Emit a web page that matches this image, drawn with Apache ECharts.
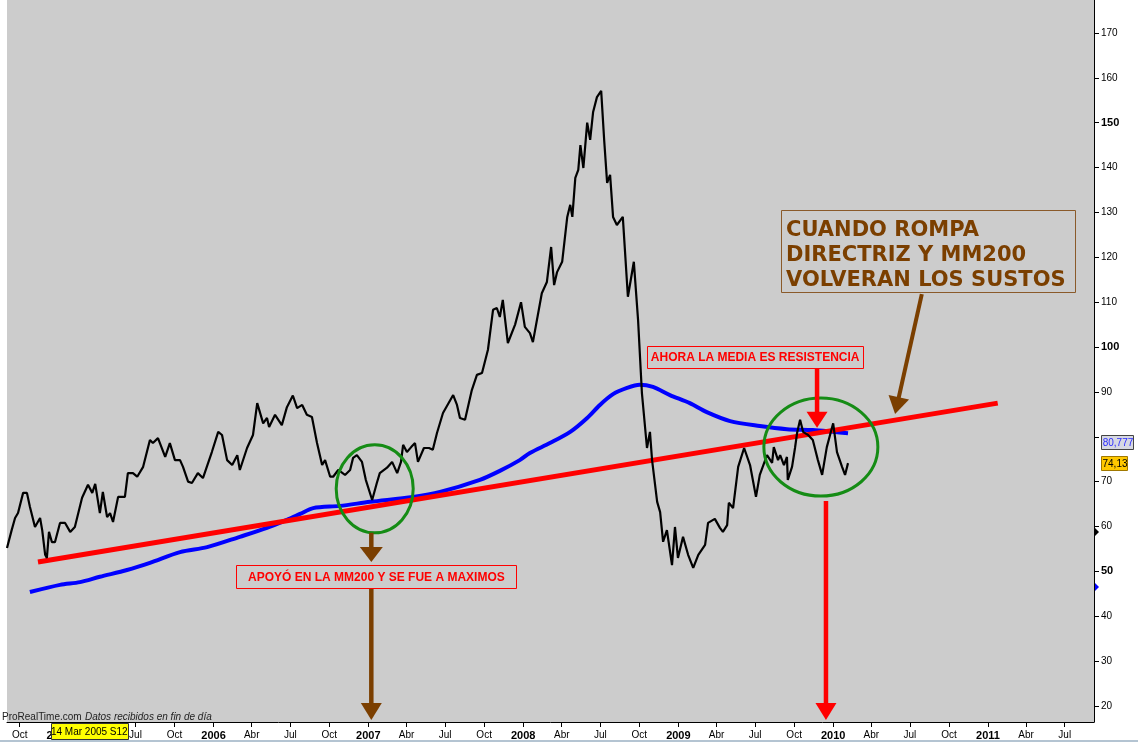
<!DOCTYPE html>
<html><head><meta charset="utf-8">
<script src="https://cdn.jsdelivr.net/npm/echarts@6/dist/echarts.min.js"></script>
<style>html,body{margin:0;padding:0;background:#fff;overflow:hidden}#c{width:1138px;height:742px}</style>
</head><body><div id="c"></div>
<script>
// ---------- DATA ----------
const priceDates = [
'2004-09-01','2004-09-12','2004-09-20','2004-09-27','2004-10-09','2004-10-18','2004-10-25','2004-11-06','2004-11-18','2004-11-23','2004-11-30','2004-12-04','2004-12-09','2004-12-16','2004-12-23',
'2005-01-04','2005-01-16','2005-01-28','2005-02-08','2005-02-25','2005-03-11','2005-03-21','2005-03-28','2005-04-08','2005-04-15','2005-04-25','2005-05-02','2005-05-09','2005-05-21','2005-06-06','2005-06-13','2005-06-25','2005-07-05','2005-07-19','2005-08-04','2005-08-11','2005-08-23','2005-09-09','2005-09-20','2005-10-02','2005-10-14','2005-10-21','2005-11-02','2005-11-11','2005-11-25','2005-12-07','2005-12-28',
'2006-01-12','2006-01-21','2006-02-02','2006-02-14','2006-02-26','2006-03-04','2006-03-21','2006-04-04','2006-04-14','2006-04-28','2006-05-07','2006-05-12','2006-05-26','2006-06-11','2006-06-23','2006-07-07','2006-07-17','2006-07-29','2006-08-09','2006-08-21','2006-09-02','2006-09-14','2006-09-21','2006-10-03','2006-10-10','2006-10-22','2006-11-07','2006-11-19','2006-11-26','2006-12-05','2006-12-17','2006-12-26',
'2007-01-10','2007-01-21','2007-01-28','2007-02-14','2007-02-26','2007-03-10','2007-03-19','2007-03-24','2007-04-02','2007-04-12','2007-04-21','2007-04-28','2007-05-12','2007-05-24','2007-06-02','2007-06-12','2007-06-26','2007-07-20','2007-07-29','2007-08-05','2007-08-17','2007-09-02','2007-09-14','2007-09-26','2007-10-10','2007-10-22','2007-10-31','2007-11-07','2007-11-14','2007-11-26','2007-12-13','2007-12-27',
'2008-01-05','2008-01-17','2008-01-24','2008-02-14','2008-02-26','2008-03-07','2008-03-14','2008-03-21','2008-04-02','2008-04-14','2008-04-21','2008-04-26','2008-05-03','2008-05-10','2008-05-15','2008-05-22','2008-05-31','2008-06-07','2008-06-14','2008-06-23','2008-07-03','2008-07-10','2008-07-17','2008-07-24','2008-07-31','2008-08-09','2008-08-23','2008-09-04','2008-09-18','2008-09-28','2008-10-07','2008-10-19','2008-10-26','2008-10-31','2008-11-12','2008-11-19','2008-11-26','2008-12-05','2008-12-17','2008-12-24','2008-12-31',
'2009-01-12','2009-01-24','2009-02-05','2009-02-17','2009-03-05','2009-03-12','2009-03-28','2009-04-09','2009-04-16','2009-04-26','2009-04-30','2009-05-10','2009-05-22','2009-06-05','2009-06-19','2009-07-03','2009-07-12','2009-07-29','2009-08-10','2009-08-14','2009-08-24','2009-08-29','2009-09-07','2009-09-14','2009-09-16','2009-09-26','2009-10-03','2009-10-08','2009-10-15','2009-10-22','2009-11-03','2009-11-14','2009-11-26','2009-12-06','2009-12-17',
'2010-01-01','2010-01-10','2010-01-22','2010-01-29','2010-02-05'
];
const priceValues = [
55.2,59.2,61.9,63,67.5,67.5,64.4,59.9,61.9,59.2,53.7,53,58.8,56.5,56.5,
60.8,60.8,58.8,59.9,66.4,69.3,67.5,69.5,63,67.7,62.1,63,61,66.6,66.6,71.9,71.9,71.1,73.3,79.3,78.6,79.7,75.5,78.6,74.8,74.8,73.3,70,69.7,71.9,70.8,76.6,
81.1,80.4,74.8,73.7,75.9,72.6,77.5,80.4,87.5,83,84.2,82.2,84.9,82.6,86.6,89.2,86.4,87.1,84.9,84.4,78.6,73.7,74.8,71.1,71.1,72.6,71.5,72.6,75.3,75.9,74.4,70.4,
65.9,69.7,71.9,73.1,74.4,71.9,74.4,78.2,76.6,77.7,78.6,74.4,77.5,77.5,77.1,80.9,85.3,89.3,87.1,84.2,83.8,90.4,93.8,94.2,99.4,108.3,108.7,106.7,110.5,100.9,105,110,
104.5,103.1,101.1,112,114.5,122.3,113.8,116.7,119,129,131.7,129,137.7,139.5,145,139.9,150,146.2,152.4,155.7,157.1,146.2,136.6,138.4,129,127.2,129,111.2,119,106,89.8,77.5,81.1,74.8,65.5,63.2,56.6,59.2,51.4,59.9,53,
57.7,53.7,50.8,53.7,55.9,60.8,61.7,59.7,58.8,60.3,65.3,64.1,73.3,77.5,73.7,66.6,71.5,75.9,74.2,77.7,74.8,75.9,73.7,75.5,70.4,73.3,77.5,80.9,83.8,81.1,80.4,79.3,74.8,71.5,77.7,
83,76.6,73.3,71.5,74.13
];
const mm200Dates = ['2004-10-25','2005-01-04','2005-02-20','2005-04-08','2005-06-11','2005-08-04','2005-10-14','2005-12-17','2006-03-04','2006-05-07','2006-06-23','2006-07-24','2006-08-24','2006-10-26','2007-01-05','2007-04-16','2007-06-19','2007-09-21','2007-11-07','2007-12-24','2008-01-17','2008-03-04','2008-04-21','2008-05-31','2008-06-30','2008-07-31','2008-09-02','2008-10-02','2008-11-02','2008-12-12','2009-01-28','2009-03-09','2009-05-03','2009-07-12','2009-09-14','2009-11-14','2010-01-01','2010-02-05'];
const mm200Values = [45.4,47.0,47.6,48.8,50.3,51.9,54.3,55.4,57.7,59.7,61.5,62.8,64.1,64.6,65.5,66.6,67.7,70.4,72.4,74.8,76.4,78.6,81.1,84.2,87.1,89.5,90.9,91.6,91.1,89.3,87.5,85.5,83.5,82.4,81.7,81.5,81.1,80.777];
const trendDates = ['2004-11-13','2011-01-24'];
const trendValues = [52.1, 87.5];

const xTickDates = ['2004-10-01','2005-01-01','2005-04-01','2005-07-01','2005-10-01','2006-01-01','2006-04-01','2006-07-01','2006-10-01','2007-01-01','2007-04-01','2007-07-01','2007-10-01','2008-01-01','2008-04-01','2008-07-01','2008-10-01','2009-01-01','2009-04-01','2009-07-01','2009-10-01','2010-01-01','2010-04-01','2010-07-01','2010-10-01','2011-01-01','2011-04-01','2011-07-01'];
const xTickLabels = ['Oct','2005','Abr','Jul','Oct','2006','Abr','Jul','Oct','2007','Abr','Jul','Oct','2008','Abr','Jul','Oct','2009','Abr','Jul','Oct','2010','Abr','Jul','Oct','2011','Abr','Jul'];
const yTickValues = [20,30,40,50,60,70,80,90,100,110,120,130,140,150,160,170];
// the 80 label is covered by the MM200 value tag in the reference
const yLabelValues = [20,30,40,50,60,70,90,100,110,120,130,140,150,160,170];
const yBoldTicks = [50,100,150];
const lastPrice = 74.13, lastPriceText = '74,13';
const lastMM = 80.777, lastMMText = '80,777';
const cursorDate = '2005-03-14', cursorText = '14 Mar 2005 S12';

// ---------- HELPERS ----------
function ts(s){const p=s.split('-').map(Number);return Date.UTC(p[0],p[1]-1,p[2]);}
const FONT = '"Liberation Sans", Arial, sans-serif';
const xTickValues = xTickDates.map(ts);
const xLabelMap = {}; xTickValues.forEach((v,i)=>{xLabelMap[v]=xTickLabels[i];});
const pairs = (ds,vs)=>ds.map((d,i)=>[ts(d),vs[i]]);

const chart = echarts.init(document.getElementById('c'), null, {renderer:'canvas'});
chart.setOption({
  animation:false,
  backgroundColor:'#ffffff',
  grid:{left:7,right:44,top:0,bottom:20,show:true,backgroundColor:'#cccccc',borderWidth:0},
  xAxis:{
    type:'value', min:ts('2004-09-01'), max:ts('2011-09-08'), scale:true,
    axisLine:{show:true,onZero:false,lineStyle:{color:'#000',width:1}},
    axisTick:{show:true,customValues:xTickValues,length:5,lineStyle:{color:'#000',width:1}},
    axisLabel:{show:true,customValues:xTickValues,fontFamily:FONT,fontSize:10,color:'#000',margin:8,
      formatter:function(v){const l=xLabelMap[v]; if(l===undefined) return ''; return /^\d{4}$/.test(l)?'{y|'+l+'}':l;},
      rich:{y:{fontFamily:FONT,fontWeight:'bold',fontSize:11,color:'#000'}}},
    splitLine:{show:false}
  },
  yAxis:{
    type:'value', position:'right', min:16.43, max:177.35,
    axisLine:{show:true,lineStyle:{color:'#000',width:1}},
    axisTick:{show:true,customValues:yTickValues,length:5,lineStyle:{color:'#000'}},
    axisLabel:{show:true,customValues:yLabelValues,fontFamily:FONT,fontSize:10,color:'#000',margin:7,
      formatter:function(v){return yBoldTicks.indexOf(v)>=0?'{b|'+v+'}':String(v);},
      rich:{b:{fontFamily:FONT,fontWeight:'bold',fontSize:11,color:'#000'}}},
    splitLine:{show:false}
  },
  series:[
    {name:'MM200',type:'line',data:pairs(mm200Dates,mm200Values),showSymbol:false,smooth:0.3,z:2,
      lineStyle:{color:'#0000ff',width:4},itemStyle:{color:'#0000ff'}},
    {name:'Directriz',type:'line',data:pairs(trendDates,trendValues),showSymbol:false,z:3,
      lineStyle:{color:'#ff0000',width:5},itemStyle:{color:'#ff0000'}},
    {name:'Precio',type:'line',data:pairs(priceDates,priceValues),showSymbol:false,z:4,
      lineStyle:{color:'#000000',width:2.2},itemStyle:{color:'#000'}}
  ]
});

// ---------- ANNOTATIONS (anchored in data coordinates) ----------
const px = (d,v)=>chart.convertToPixel({gridIndex:0},[ts(d),v]);
const RED='#ff0000', BROWN='#7b3f00', GREEN='#158c15';
const g = [];
function arrow(p0,p1,color,w,hl,hw){
  const dx=p1[0]-p0[0], dy=p1[1]-p0[1], L=Math.hypot(dx,dy), ux=dx/L, uy=dy/L, nx=-uy, ny=ux;
  const b=[p1[0]-ux*hl,p1[1]-uy*hl];
  g.push({type:'line',z:100,shape:{x1:p0[0],y1:p0[1],x2:b[0]+ux*2,y2:b[1]+uy*2},style:{stroke:color,lineWidth:w}});
  g.push({type:'polygon',z:100,shape:{points:[[p1[0],p1[1]],[b[0]+nx*hw/2,b[1]+ny*hw/2],[b[0]-nx*hw/2,b[1]-ny*hw/2]]},style:{fill:color}});
}
function ellipse(c,rx,ry){g.push({type:'ellipse',z:99,shape:{cx:c[0],cy:c[1],rx:rx,ry:ry},style:{fill:'none',stroke:GREEN,lineWidth:3}});}
function box(c,w,h,text,color,font){
  g.push({type:'rect',z:100,shape:{x:Math.round(c[0]-w/2)+0.5,y:Math.round(c[1]-h/2)+0.5,width:w,height:h},style:{fill:'#cccccc',stroke:color,lineWidth:1}});
  g.push({type:'text',z:101,x:c[0],y:c[1]+1,style:{text:text,fill:color,font:font,align:'center',verticalAlign:'middle'}});
}
ellipse(px('2007-01-16',68.4),38.5,44);
ellipse(px('2009-12-03',77.7),57,49);
arrow(px('2007-01-08',58.6),px('2007-01-08',52.1),BROWN,4.5,15,23);
arrow(px('2007-01-08',46.1),px('2007-01-08',16.9),BROWN,4.5,17,21);
arrow(px('2009-11-24',95.3),px('2009-11-24',82.0),RED,4.5,16,21);
arrow(px('2009-12-15',65.7),px('2009-12-15',16.9),RED,4.5,17,21);
arrow(px('2010-07-29',111.8),px('2010-05-27',85.1),BROWN,4,17,21);
box(px('2007-01-20',48.8),280,23,'APOYÓ EN LA MM200 Y SE FUE A MAXIMOS',RED,'bold 12px '+FONT);
box(px('2009-07-01',97.8),216,22,'AHORA LA MEDIA ES RESISTENCIA',RED,'bold 12px '+FONT);
// big brown note
const tl = px('2009-08-31',130.6);
g.push({type:'rect',z:100,shape:{x:Math.round(tl[0])+0.5,y:Math.round(tl[1])+0.5,width:294,height:82},style:{fill:'#cccccc',stroke:'#8a5a2a',lineWidth:1}});
['CUANDO ROMPA','DIRECTRIZ Y MM200','VOLVERAN LOS SUSTOS'].forEach((t,i)=>{
  g.push({type:'text',z:101,x:tl[0]+5,y:tl[1]+21+i*25,style:{text:t,fill:BROWN,font:'bold 21px "DejaVu Sans", Arial, sans-serif',align:'left',verticalAlign:'middle'}});
});
// right-axis value tags
const axX = 1094;
const yP = px('2010-02-05',lastPrice)[1];
const yM = px('2010-02-05',lastMM)[1];
g.push({type:'rect',z:100,shape:{x:axX+7.5,y:Math.round(yM+2)+0.5,width:32,height:14},style:{fill:'#d6d8e2',stroke:'#444',lineWidth:1}});
g.push({type:'text',z:101,x:axX+24,y:Math.round(yM+2)+8,style:{text:lastMMText,fill:'#2b2bff',font:'10px '+FONT,align:'center',verticalAlign:'middle'}});
g.push({type:'rect',z:100,shape:{x:axX+7.5,y:Math.round(yP-7)+0.5,width:26,height:14},style:{fill:'#ffc800',stroke:'#a07800',lineWidth:1}});
g.push({type:'text',z:101,x:axX+21,y:Math.round(yP-7)+8,style:{text:lastPriceText,fill:'#000',font:'10px '+FONT,align:'center',verticalAlign:'middle'}});
// small axis markers
[[58.8,'#000'],[46.5,'#0000ff']].forEach(m=>{const y=px('2010-02-05',m[0])[1];
  g.push({type:'polygon',z:100,shape:{points:[[axX+1,y-4],[axX+1,y+4],[axX+5,y]]},style:{fill:m[1]}});});
// footer texts
g.push({type:'text',z:101,x:2,y:717,style:{text:'ProRealTime.com',fill:'#222',font:'10px '+FONT,align:'left',verticalAlign:'middle'}});
g.push({type:'text',z:101,x:85,y:717,style:{text:'Datos recibidos en fin de día',fill:'#222',font:'italic 10px '+FONT,align:'left',verticalAlign:'middle'}});
const cx = px(cursorDate,50)[0];
g.push({type:'rect',z:102,shape:{x:Math.round(cx-38)+0.5,y:723.5,width:77,height:16},style:{fill:'#ffff00',stroke:'#333',lineWidth:1}});
g.push({type:'text',z:103,x:cx,y:732,style:{text:cursorText,fill:'#000',font:'10px '+FONT,align:'center',verticalAlign:'middle'}});
g.push({type:'rect',z:90,shape:{x:0,y:740,width:1138,height:2},style:{fill:'#b4c4d2'}});
chart.setOption({graphic:g});
</script></body></html>
